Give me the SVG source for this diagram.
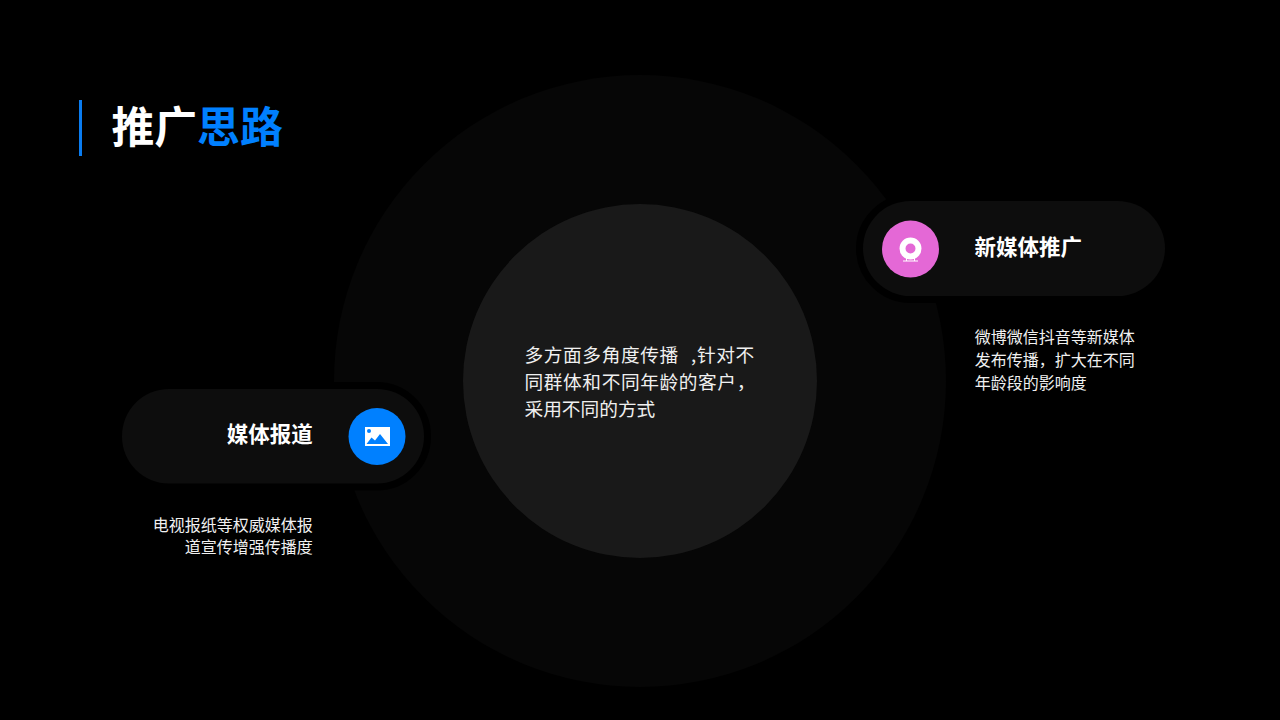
<svg xmlns="http://www.w3.org/2000/svg" width="1280" height="720" viewBox="0 0 1280 720">
<style>
text{font-family:"Noto Sans CJK SC","Noto Sans",sans-serif;fill:#fff}
.pill{fill:#0d0d0d;stroke:#000;stroke-width:14;paint-order:stroke}
.lab{font-size:21.500px;font-weight:700}
.desc{font-size:16px;fill:#f0f0f0}
.mid{font-size:18.700px;fill:#f0f0f0}
.just{letter-spacing:.6px}
</style>
<rect width="1280" height="720" fill="#000"/>
<g id="backdrop">
<circle cx="640" cy="381" r="306" fill="#060606"/>
<circle cx="640" cy="381" r="177" fill="#191919"/>
</g>
<g id="title">
<rect x="79" y="100" width="3" height="56" fill="#0a7cf0"/>
<text x="111.500" y="143" font-size="42.800" font-weight="700">推广<tspan fill="#0080ff">思路</tspan></text>
</g>
<g id="center-text">
<text class="mid just" x="524.500" y="362">多方面多角度传播 <tspan x="691">,</tspan><tspan x="697">针对不</tspan></text>
<text class="mid just" x="524.500" y="389">同群体和不同年龄的客户，</text>
<text class="mid" x="524.500" y="416">采用不同的方式</text>
</g>
<g id="node-new-media">
<rect class="pill" x="863" y="201" width="302" height="95" rx="47.500"/>
<circle cx="910.500" cy="249" r="28.500" fill="#e468d6"/>
<circle cx="910.500" cy="248.500" r="8" fill="none" stroke="#fff" stroke-width="6"/>
<rect x="903" y="260.500" width="15" height="1" fill="#fff"/>
<rect x="906" y="257" width="1" height="4" fill="#fff"/>
<rect x="914" y="257" width="1" height="4" fill="#fff"/>
<text class="lab" x="974.500" y="254.500">新媒体推广</text>
<text class="desc" x="974.800" y="343">微博微信抖音等新媒体</text>
<text class="desc" x="974.800" y="366">发布传播，扩大在不同</text>
<text class="desc" x="974.800" y="389">年龄段的影响度</text>
</g>
<g id="node-media">
<rect class="pill" x="122" y="389" width="302" height="94.500" rx="47"/>
<circle cx="377" cy="436.500" r="28.500" fill="#0080ff"/>
<rect x="365" y="427" width="25" height="19" fill="#fff"/>
<circle cx="369" cy="431" r="2" fill="#0080ff"/>
<path d="M366.500 444l5-6.500 3.500 3 5-6.500 8 10z" fill="#0080ff"/>
<text class="lab" x="312.800" y="441.500" text-anchor="end">媒体报道</text>
<text class="desc" x="312.800" y="530.500" text-anchor="end">电视报纸等权威媒体报</text>
<text class="desc" x="312.800" y="553" text-anchor="end">道宣传增强传播度</text>
</g>
</svg>
